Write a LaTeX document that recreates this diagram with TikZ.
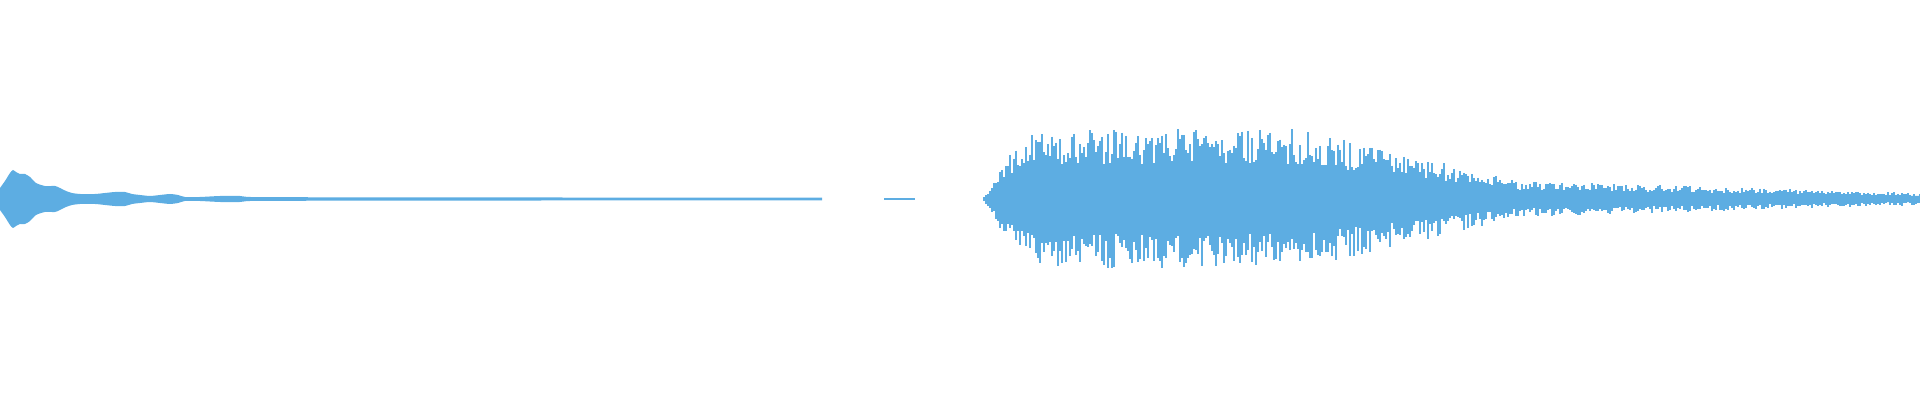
\documentclass[tikz,border=0pt]{standalone}
\begin{document}
\definecolor{wave}{HTML}{5DADE2}
\begin{tikzpicture}[x=0.5pt,y=0.5pt,wavebar/.style={draw=wave,line width=0.6pt}]
\useasboundingbox (0,0) rectangle (1920,400);
\pgfmathsetseed{11}
% left decaying part
\fill[wave] plot[smooth,tension=0.4] coordinates {(0,190)(5,183)(10,175)(13,172)(16,174)(20,176)(25,176)(30,179)(36,185)(45,188)(55,188)(60,190)(66,193)(72,195)(80,196)(95,196)(105,195)(115,194)(125,194)(132,196)(140,197)(150,198)(160,197)(170,196)(178,197)(185,199)(200,199)(220,198)(240,198)(250,199)(300,199.2)(330,199.4)(400,199.3)(550,199.5)(822,199.6)}
 -- plot[smooth,tension=0.4] coordinates {(822,202.4)(550,202.5)(400,202.7)(330,202.6)(300,202.8)(250,203)(240,204)(220,204)(200,203)(185,203)(178,205)(170,206)(160,205)(150,204)(140,205)(132,206)(125,208)(115,208)(105,207)(95,206)(80,206)(72,207)(66,209)(60,212)(55,214)(45,214)(36,217)(30,223)(25,226)(20,226)(16,228)(13,230)(10,227)(5,219)(0,212)} -- cycle;
\fill[wave] (884,199.7) rectangle (915,202.3);
% right burst core
\fill[wave] plot[smooth] coordinates {(983,201)(995,193)(1010,184)(1030,176)(1100,171)(1300,176)(1400,186)(1500,194)(1920,198)}
 -- plot[smooth] coordinates {(1920,204)(1500,208)(1400,216)(1300,226)(1100,231)(1030,226)(1010,218)(995,209)(983,201)} -- cycle;
% bars
\foreach \x in {984,986,...,1920}{
  \pgfmathsetmacro{\env}{\x<1045 ? 72*sin(1.4516*(\x-983)) : (\x<1300 ? 70 : (\x<1520 ? 70-(\x-1300)/220*52 : 18-(\x-1520)/400*12))}
  \pgfmathsetmacro{\ha}{\env*(0.5+0.5*rnd)}
  \pgfmathsetmacro{\hb}{\env*(0.5+0.5*rnd)}
  \draw[wavebar] (\x,201+\ha) -- (\x,201-\hb);
}
\end{tikzpicture}
\end{document}
